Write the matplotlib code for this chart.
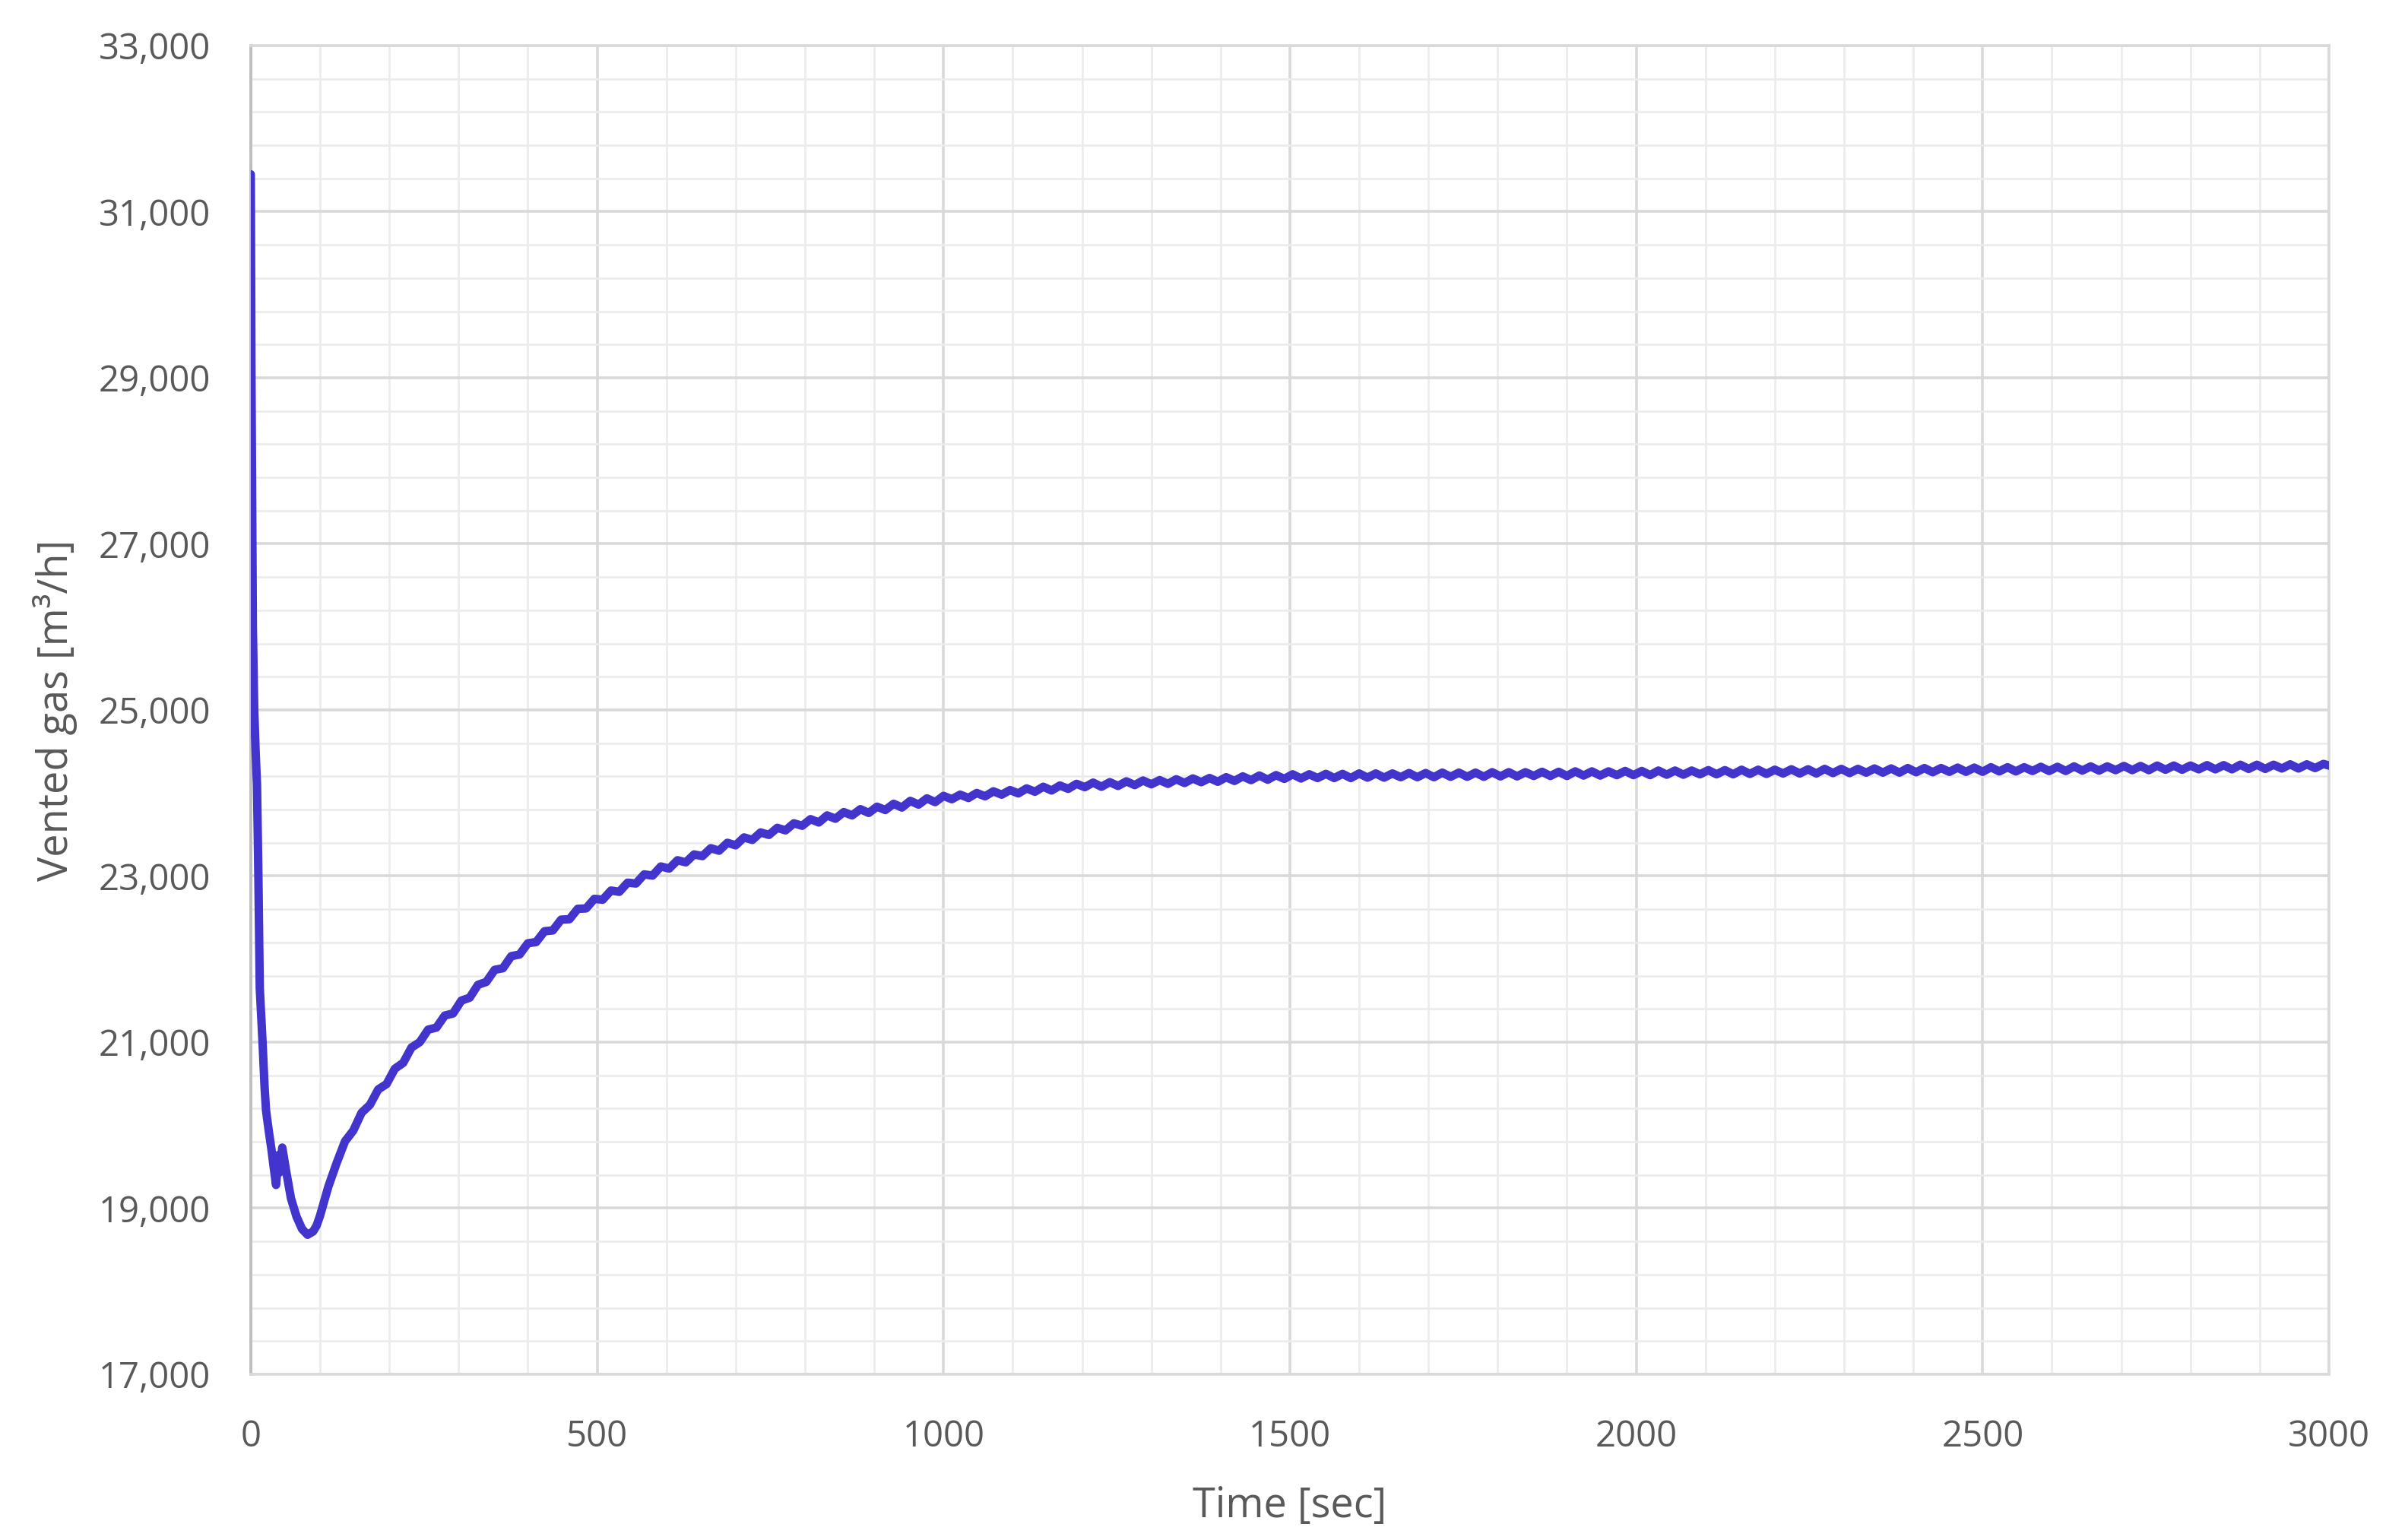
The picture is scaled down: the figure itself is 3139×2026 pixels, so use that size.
import matplotlib
matplotlib.use("Agg")
import matplotlib.pyplot as plt
from matplotlib.ticker import FuncFormatter

plt.rcParams['font.family'] = ['Open Sans', 'DejaVu Sans']

# time [sec] and vented gas [m3/h]
time_early = [0, 1, 3, 5, 7, 9, 11, 13, 17, 20, 22, 26, 30, 33, 36.5, 40, 41.5,
              45.5, 51, 58, 66, 74, 82, 90, 95, 100]
gas_early = [31450, 29000, 26000, 25000, 24500, 24100, 23000, 21650, 21000, 20450,
             20180, 19930, 19700, 19500, 19280, 19640, 19430, 19730, 19450, 19120,
             18900, 18750, 18680, 18720, 18790, 18910]

# ripple section: peaks and troughs every 12 s
time_ripple = [
    112, 124, 136, 148, 160, 172, 184, 196, 208, 220, 232, 244, 256, 268, 280, 292,
    304, 316, 328, 340, 352, 364, 376, 388, 400, 412, 424, 436, 448, 460, 472, 484,
    496, 508, 520, 532, 544, 556, 568, 580, 592, 604, 616, 628, 640, 652, 664, 676,
    688, 700, 712, 724, 736, 748, 760, 772, 784, 796, 808, 820, 832, 844, 856, 868,
    880, 892, 904, 916, 928, 940, 952, 964, 976, 988, 1000, 1012, 1024, 1036, 1048,
    1060, 1072, 1084, 1096, 1108, 1120, 1132, 1144, 1156, 1168, 1180, 1192, 1204,
    1216, 1228, 1240, 1252, 1264, 1276, 1288, 1300, 1312, 1324, 1336, 1348, 1360,
    1372, 1384, 1396, 1408, 1420, 1432, 1444, 1456, 1468, 1480, 1492, 1504, 1516,
    1528, 1540, 1552, 1564, 1576, 1588, 1600, 1612, 1624, 1636, 1648, 1660, 1672,
    1684, 1696, 1708, 1720, 1732, 1744, 1756, 1768, 1780, 1792, 1804, 1816, 1828,
    1840, 1852, 1864, 1876, 1888, 1900, 1912, 1924, 1936, 1948, 1960, 1972, 1984,
    1996, 2008, 2020, 2032, 2044, 2056, 2068, 2080, 2092, 2104, 2116, 2128, 2140,
    2152, 2164, 2176, 2188, 2200, 2212, 2224, 2236, 2248, 2260, 2272, 2284, 2296,
    2308, 2320, 2332, 2344, 2356, 2368, 2380, 2392, 2404, 2416, 2428, 2440, 2452,
    2464, 2476, 2488, 2500, 2512, 2524, 2536, 2548, 2560, 2572, 2584, 2596, 2608,
    2620, 2632, 2644, 2656, 2668, 2680, 2692, 2704, 2716, 2728, 2740, 2752, 2764,
    2776, 2788, 2800, 2812, 2824, 2836, 2848, 2860, 2872, 2884, 2896, 2908, 2920,
    2932, 2944, 2956, 2968, 2980, 2992, 3000]
gas_ripple = [
    19260, 19545, 19805, 19935, 20150, 20245, 20430, 20495, 20680, 20750, 20935, 21000,
    21150, 21175, 21320, 21345, 21500, 21535, 21690, 21725, 21870, 21890, 22035, 22055,
    22190, 22205, 22335, 22345, 22475, 22480, 22605, 22610, 22725, 22715, 22825, 22810,
    22920, 22910, 23020, 23005, 23115, 23090, 23190, 23165, 23260, 23240, 23335, 23305,
    23400, 23370, 23465, 23435, 23525, 23495, 23580, 23550, 23635, 23605, 23685, 23645,
    23730, 23690, 23770, 23730, 23805, 23760, 23835, 23795, 23870, 23825, 23905, 23860,
    23935, 23890, 23965, 23925, 23980, 23940, 24000, 23960, 24020, 23980, 24035, 23995,
    24055, 24015, 24075, 24030, 24090, 24050, 24110, 24070, 24125, 24075, 24130, 24085,
    24140, 24095, 24150, 24105, 24155, 24110, 24165, 24120, 24175, 24130, 24180, 24135,
    24190, 24145, 24200, 24155, 24210, 24160, 24215, 24170, 24225, 24175, 24225, 24180,
    24230, 24180, 24230, 24180, 24235, 24185, 24235, 24185, 24235, 24190, 24240, 24190,
    24240, 24190, 24245, 24195, 24245, 24195, 24245, 24195, 24250, 24200, 24250, 24200,
    24250, 24205, 24255, 24205, 24255, 24205, 24260, 24210, 24260, 24210, 24260, 24215,
    24265, 24215, 24265, 24215, 24270, 24220, 24270, 24220, 24270, 24225, 24275, 24225,
    24275, 24225, 24280, 24230, 24280, 24230, 24280, 24235, 24285, 24235, 24285, 24235,
    24290, 24240, 24290, 24240, 24290, 24245, 24295, 24245, 24295, 24245, 24300, 24250,
    24300, 24250, 24300, 24255, 24305, 24255, 24305, 24255, 24310, 24260, 24310, 24260,
    24310, 24265, 24315, 24265, 24315, 24265, 24320, 24270, 24320, 24270, 24320, 24275,
    24325, 24275, 24325, 24275, 24330, 24280, 24330, 24280, 24330, 24285, 24335, 24285,
    24335, 24285, 24340, 24290, 24340, 24290, 24340, 24295, 24345, 24295, 24345, 24300,
    24350, 24330]

time_sec = time_early + time_ripple
vented_gas = gas_early + gas_ripple

x_major = list(range(0, 3001, 500))
x_minor = list(range(0, 3001, 100))
y_major = list(range(17000, 33001, 2000))
y_minor = list(range(17000, 33001, 400))

fig = plt.figure(figsize=(31.39, 20.26), dpi=100)
ax = fig.add_axes([0.1051, 0.1076, 0.8710, 0.8628])

ax.plot(time_sec, vented_gas, color='#4234cc', lw=8, solid_joinstyle='round',
        solid_capstyle='round', zorder=3)

ax.set_xlim(0, 3000)
ax.set_ylim(17000, 33000)
ax.set_xticks(x_major)
ax.set_xticks(x_minor, minor=True)
ax.set_yticks(y_major)
ax.set_yticks(y_minor, minor=True)
ax.yaxis.set_major_formatter(FuncFormatter(lambda v, p: f"{v:,.0f}"))

ax.set_axisbelow(True)
ax.grid(which='major', color='#d9d9d9', lw=2.6)
ax.grid(which='minor', color='#ececec', lw=2.0)

for side in ['top', 'right', 'bottom']:
    ax.spines[side].set_color('#d9d9d9')
    ax.spines[side].set_linewidth(2.6)
ax.spines['left'].set_color('#bfbfbf')
ax.spines['left'].set_linewidth(2.8)

ax.tick_params(which='both', length=0, labelsize=34, colors='#595959')
ax.tick_params(axis='x', pad=42)
ax.tick_params(axis='y', pad=38)

ax.set_xlabel("Time [sec]", fontsize=39, color='#595959', labelpad=29)
ax.set_ylabel("Vented gas [m³/h]", fontsize=39, color='#595959', labelpad=20)

fig.savefig("out.png", dpi=100, facecolor='white')
